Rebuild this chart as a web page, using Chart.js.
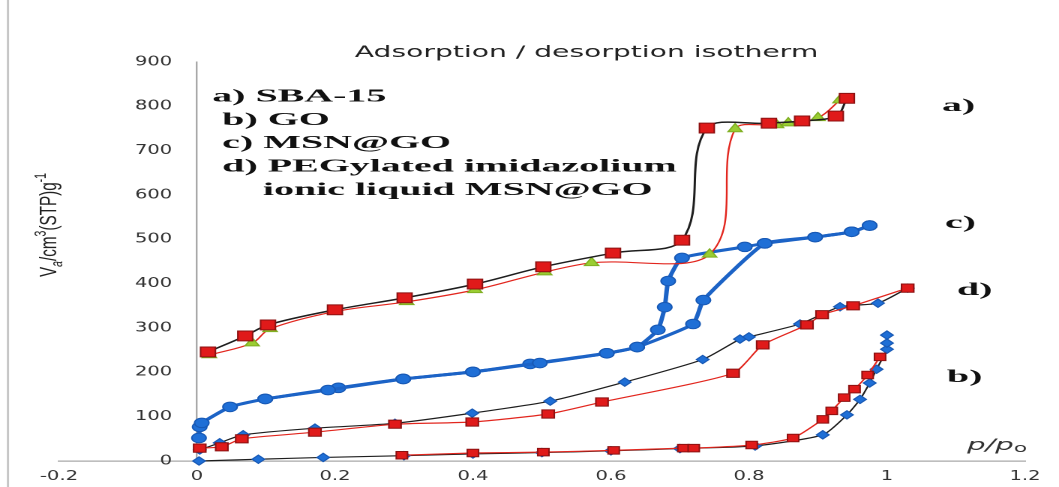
<!DOCTYPE html>
<html>
<head>
<meta charset="utf-8">
<script src="https://cdn.jsdelivr.net/npm/chart.js@4.4.1/dist/chart.umd.min.js"></script>
<style>
  html, body { margin: 0; padding: 0; background: #ffffff; overflow: hidden; }
  /* the figure is laid out narrow and widened 1.5x, as in the original export */
  #wrap { position: absolute; left: 0; top: 0; width: 706px; height: 487px;
          transform: scaleX(1.5); transform-origin: 0 0; }
</style>
</head>
<body>
<div id="wrap"><canvas id="iso" style="width:706px;height:487px"></canvas></div>
<script>
// ---- isotherm data (p/p0, adsorbed volume cm3(STP)/g) ----
// a) SBA-15
const sbaDesX = [0.016, 0.07, 0.103, 0.2, 0.301, 0.403, 0.502, 0.603, 0.703, 0.739, 0.829, 0.877, 0.926, 0.942];
const sbaDesY = [246, 282, 307, 341, 368, 399, 438, 469, 498, 751, 762, 767, 778, 818];
const sbaAdsX = [0.018, 0.08, 0.106, 0.2, 0.304, 0.403, 0.504, 0.572, 0.743, 0.78, 0.84, 0.857, 0.9, 0.932];
const sbaAdsY = [239, 266, 298, 337, 359, 386, 426, 447, 466, 749, 758, 762, 774, 814];
// c) MSN@GO
const msnAdsX = [0.003, 0.004, 0.007, 0.048, 0.099, 0.19, 0.299, 0.40, 0.497, 0.594, 0.638, 0.719, 0.734, 0.823, 0.896, 0.949, 0.975];
const msnAdsY = [52, 77, 86, 122, 140, 160, 185, 201, 221, 243, 257, 309, 363, 491, 505, 517, 531];
const msnDesX = [0.975, 0.949, 0.896, 0.823, 0.794, 0.703, 0.683, 0.678, 0.668, 0.638, 0.594, 0.483, 0.40, 0.299, 0.205, 0.099];
const msnDesY = [531, 517, 505, 491, 483, 458, 406, 347, 296, 257, 243, 219, 201, 185, 165, 140];
// d) PEGylated imidazolium ionic liquid MSN@GO
const pegAX = [0.004, 0.033, 0.067, 0.171, 0.287, 0.399, 0.512, 0.62, 0.733, 0.787, 0.80, 0.874, 0.932, 0.987, 1.03];
const pegAY = [25, 41, 59, 74, 85, 108, 135, 178, 229, 275, 280, 309, 348, 356, 390];
const pegBX = [0.004, 0.036, 0.065, 0.171, 0.287, 0.399, 0.509, 0.587, 0.777, 0.82, 0.884, 0.906, 0.951, 1.03];
const pegBY = [29, 32, 50, 65, 83, 88, 106, 133, 198, 262, 307, 330, 350, 390];
// b) GO
const goAX = [0.003, 0.089, 0.183, 0.3, 0.4, 0.5, 0.6, 0.7, 0.809, 0.907, 0.942, 0.961, 0.975, 0.985, 1.0, 1.0, 1.0];
const goAY = [0, 4, 8, 12, 16, 19, 23, 28, 34, 59, 104, 139, 176, 207, 252, 266, 284];
const goBX = [0.297, 0.40, 0.502, 0.604, 0.705, 0.72, 0.804, 0.864, 0.907, 0.92, 0.938, 0.953, 0.972, 0.99];
const goBY = [13, 18, 20, 24, 29, 29, 36, 52, 94, 113, 143, 162, 194, 235];

// ---- axis tick labels ----
const xTickLabels = ['-0.2', '0', '0.2', '0.4', '0.6', '0.8', '1', '1.2'];
const yTickLabels = ['0', '100', '200', '300', '400', '500', '600', '700', '800', '900'];

// ---- text ----
const titleText = 'Adsorption / desorption isotherm';
const keyLines = ['a) SBA-15', ' b) GO', ' c) MSN@GO', ' d) PEGylated imidazolium', 'ionic liquid MSN@GO'];
const curveTags = ['a)', 'c)', 'd)', 'b)'];

const pts = (xs, ys) => xs.map((x, i) => ({ x, y: ys[i] }));

const BLACK = '#1e1e1e', RED = '#e2261e', BLUE = '#1c63c6';
const SQ_FILL = '#e01a1a', SQ_EDGE = '#8c1111';
const TRI_FILL = '#9acd32', TRI_EDGE = '#7fae22';
const DOT_FILL = '#1f6fd6', DOT_EDGE = '#1859b5';

// the y axis sits at p/p0 = 0, so its labels are kept clear of the line with figure spaces
const GAP = '\u2007\u2007';

function series(data, line, width, style, r, fill, edge, tension) {
  return {
    data, showLine: true, borderColor: line, borderWidth: width, tension,
    pointStyle: style, pointRadius: r, pointHoverRadius: r,
    pointBackgroundColor: fill, pointBorderColor: edge, pointBorderWidth: 1,
    clip: false
  };
}

const datasets = [
  series(pts(sbaDesX, sbaDesY), BLACK, 1.5, 'rect', 7, SQ_FILL, SQ_EDGE, 0.35),
  series(pts(sbaAdsX, sbaAdsY), RED, 1.2, 'triangle', 5.5, TRI_FILL, TRI_EDGE, 0.35),
  series(pts(pegBX, pegBY), RED, 1.2, 'rect', 5.8, SQ_FILL, SQ_EDGE, 0.2),
  series(pts(pegAX, pegAY), BLACK, 1.2, 'rectRot', 4.2, DOT_FILL, DOT_EDGE, 0.2),
  series(pts(goBX, goBY), RED, 1.2, 'rect', 5.3, SQ_FILL, SQ_EDGE, 0.2),
  series(pts(goAX, goAY), BLACK, 1.2, 'rectRot', 4.2, DOT_FILL, DOT_EDGE, 0.2),
  series(pts(msnAdsX, msnAdsY), BLUE, 3, 'circle', 4.8, DOT_FILL, DOT_EDGE, 0.15),
  series(pts(msnDesX, msnDesY), BLUE, 3, 'circle', 4.8, DOT_FILL, DOT_EDGE, 0.15)
];

// draws text squeezed/stretched along its run to a given length
function fitText(ctx, text, font, x, y, target, align) {
  ctx.font = font;
  const w = ctx.measureText(text).width;
  const s = target / w;
  ctx.save();
  ctx.translate(x, y);
  ctx.scale(s, 1);
  ctx.textAlign = align;
  ctx.fillText(text, 0, 0);
  ctx.restore();
}

const annotations = {
  id: 'annotations',
  afterDraw(chart) {
    const ctx = chart.ctx;
    ctx.save();

    // left frame edge
    ctx.strokeStyle = '#c6c6c6';
    ctx.lineWidth = 1.5;
    ctx.beginPath(); ctx.moveTo(5.3, 0); ctx.lineTo(5.3, 487); ctx.stroke();

    // title
    ctx.fillStyle = '#222222';
    ctx.textBaseline = 'alphabetic';
    fitText(ctx, titleText, '16px "DejaVu Sans"', 391, 57, 309, 'center');

    // key block in bold serif
    const keyFont = 'bold 18px "Liberation Serif"';
    ctx.font = keyFont;
    const k = 303 / ctx.measureText(keyLines[3].trim()).width;
    const keyX = [141.5, 141.5, 141.5, 141.5, 175.3];
    const keyY = [101.5, 124.8, 148.2, 171.6, 195];
    ctx.fillStyle = '#111111';
    ctx.textAlign = 'left';
    keyLines.forEach((t, i) => {
      ctx.save();
      ctx.translate(keyX[i], keyY[i]);
      ctx.scale(k, 1);
      ctx.fillText(t, 0, 0);
      ctx.restore();
    });

    // curve tags at the right
    const tagX = [628, 630, 638, 631.3];
    const tagY = [111, 228, 295, 382];
    curveTags.forEach((t, i) => {
      ctx.save();
      ctx.translate(tagX[i], tagY[i]);
      ctx.scale(k, 1);
      ctx.fillText(t, 0, 0);
      ctx.restore();
    });

    // y-axis title: V_a/cm^3(STP)g^-1, reading upward
    const parts = [
      { t: 'V', f: 16, dy: 0 },
      { t: 'a', f: 11, dy: 4, it: true },
      { t: '/cm', f: 16, dy: 0 },
      { t: '3', f: 11, dy: -7 },
      { t: '(STP)g', f: 16, dy: 0 },
      { t: '-1', f: 11, dy: -7 }
    ];
    let total = 0;
    parts.forEach(p => {
      ctx.font = (p.it ? 'italic ' : '') + p.f + 'px "Liberation Sans"';
      p.w = ctx.measureText(p.t).width;
      total += p.w;
    });
    const along = 104 / total;
    ctx.save();
    ctx.translate(37.5, 225);
    ctx.rotate(-Math.PI / 2);
    ctx.scale(along, 1);
    ctx.fillStyle = '#222222';
    let cx = -total / 2;
    parts.forEach(p => {
      ctx.font = (p.it ? 'italic ' : '') + p.f + 'px "Liberation Sans"';
      ctx.fillText(p.t, cx, p.dy);
      cx += p.w;
    });
    ctx.restore();

    // x-axis title p/p0
    ctx.save();
    ctx.translate(644.7, 450);
    ctx.font = 'italic 16px "DejaVu Sans"';
    const w1 = ctx.measureText('p/p').width;
    ctx.font = '12px "DejaVu Sans"';
    const w2 = ctx.measureText('o').width;
    ctx.scale(40 / (w1 + w2), 1);
    ctx.fillStyle = '#333333';
    ctx.font = 'italic 16px "DejaVu Sans"';
    ctx.fillText('p/p', 0, 0);
    ctx.font = '12px "DejaVu Sans"';
    ctx.fillText('o', w1, 2);
    ctx.restore();

    ctx.restore();
  }
};

new Chart(document.getElementById('iso'), {
  type: 'scatter',
  data: { datasets },
  options: {
    responsive: false,
    animation: false,
    devicePixelRatio: 2,
    layout: { padding: { left: 39.3, right: 22.7, top: 62, bottom: 26 } },
    plugins: { legend: { display: false }, tooltip: { enabled: false }, title: { display: false } },
    scales: {
      x: {
        type: 'linear', min: -0.2, max: 1.2,
        position: { y: 0 },
        grid: { display: false, drawTicks: false },
        border: { display: true, color: '#a8a8a8', width: 1.2 },
        ticks: {
          stepSize: 0.2, autoSkip: false, maxRotation: 0, minRotation: 0, padding: 8,
          color: '#333333', font: { family: 'DejaVu Sans', size: 13 },
          callback: (v, i) => xTickLabels[i]
        }
      },
      y: {
        type: 'linear', min: 0, max: 900,
        position: { x: 0 },
        grid: { display: false, drawTicks: false },
        border: { display: true, color: '#a8a8a8', width: 1.2 },
        ticks: {
          stepSize: 100, autoSkip: false,
          color: '#333333', font: { family: 'DejaVu Sans', size: 13 },
          callback: (v, i) => yTickLabels[i] + GAP
        }
      }
    }
  },
  plugins: [annotations]
});
</script>
</body>
</html>
